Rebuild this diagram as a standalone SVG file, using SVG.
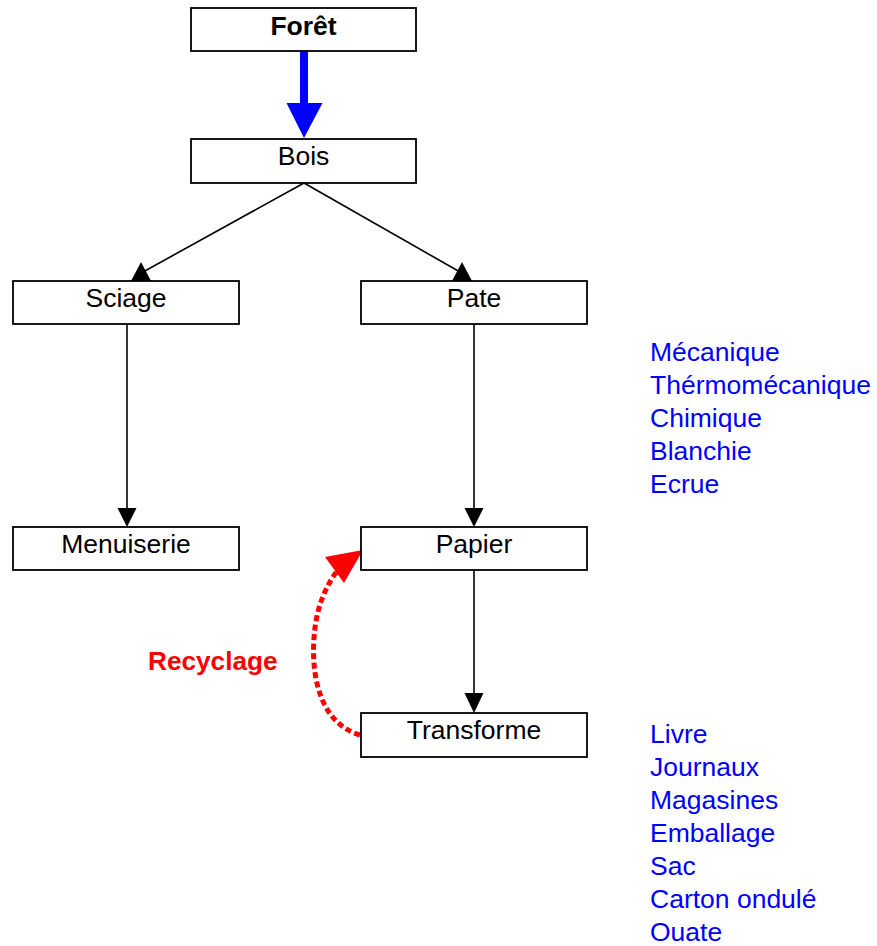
<svg xmlns="http://www.w3.org/2000/svg" width="877" height="946" viewBox="0 0 877 946">
  <style>
    .box rect { fill: #fff; stroke: #000; stroke-width: 1.8; }
    .box text { font-family: "Liberation Sans", Arial, sans-serif; font-size: 26.5px; fill: #000; text-anchor: middle; }
    .conn { stroke: #000; stroke-width: 1.6; fill: none; }
    .head { fill: #000; }
    .list { font-family: "Liberation Sans", Arial, sans-serif; font-size: 26.5px; fill: #0000ff; }
  </style>
  <rect width="877" height="946" fill="#fff"/>

  <!-- connectors -->
  <g id="connectors">
    <!-- Forêt to Bois: thick blue arrow -->
    <line x1="304" y1="51" x2="304" y2="106" stroke="#0000ff" stroke-width="8"/>
    <polygon points="286.5,103 322.5,103 304,138" fill="#0000ff"/>
    <!-- Bois to Sciage / Pate -->
    <line class="conn" x1="304" y1="183" x2="143" y2="272"/>
    <polygon class="head" points="141,262 131,281 151,281"/>
    <line class="conn" x1="304" y1="183" x2="460" y2="272"/>
    <polygon class="head" points="462,262 452,281 472,281"/>
    <!-- Sciage to Menuiserie -->
    <line class="conn" x1="127" y1="324" x2="127" y2="510"/>
    <polygon class="head" points="117.5,508 136.5,508 127,527"/>
    <!-- Pate to Papier -->
    <line class="conn" x1="474" y1="324" x2="474" y2="510"/>
    <polygon class="head" points="464.5,508 483.5,508 474,527"/>
    <!-- Papier to Transforme -->
    <line class="conn" x1="474" y1="570" x2="474" y2="696"/>
    <polygon class="head" points="464.5,693 483.5,693 474,713"/>
    <!-- Recycling loop -->
    <path d="M360,735 C322,724 311,680 314,638 C316,608 325,588 337,571" fill="none" stroke="#ff0000" stroke-width="5" stroke-dasharray="6 3.5"/>
    <polygon points="363,550 325,557 344,583" fill="#ff0000"/>
  </g>

  <g id="foret" class="box">
    <rect x="191" y="8" width="225" height="43"/>
    <text x="303.5" y="35" font-weight="bold">Forêt</text>
  </g>
  <g id="bois" class="box">
    <rect x="191" y="139" width="225" height="44"/>
    <text x="303.5" y="165">Bois</text>
  </g>
  <g id="sciage" class="box">
    <rect x="13" y="281" width="226" height="43"/>
    <text x="126" y="307">Sciage</text>
  </g>
  <g id="pate" class="box">
    <rect x="361" y="281" width="226" height="43"/>
    <text x="474" y="307">Pate</text>
  </g>
  <g id="menuiserie" class="box">
    <rect x="13" y="527" width="226" height="43"/>
    <text x="126" y="553">Menuiserie</text>
  </g>
  <g id="papier" class="box">
    <rect x="361" y="527" width="226" height="43"/>
    <text x="474" y="553">Papier</text>
  </g>
  <g id="transforme" class="box">
    <rect x="361" y="713" width="226" height="44"/>
    <text x="474" y="739">Transforme</text>
  </g>

  <g id="recyclage-label">
    <text x="148" y="670" font-family="Liberation Sans, Arial, sans-serif" font-size="26.2" font-weight="bold" fill="#ff0000">Recyclage</text>
  </g>

  <g id="pate-types" class="list">
    <text x="650" y="361">Mécanique</text>
    <text x="650" y="394">Thérmomécanique</text>
    <text x="650" y="427">Chimique</text>
    <text x="650" y="460">Blanchie</text>
    <text x="650" y="493">Ecrue</text>
  </g>

  <g id="produits" class="list">
    <text x="650" y="743">Livre</text>
    <text x="650" y="776">Journaux</text>
    <text x="650" y="809">Magasines</text>
    <text x="650" y="842">Emballage</text>
    <text x="650" y="875">Sac</text>
    <text x="650" y="908">Carton ondulé</text>
    <text x="650" y="941">Ouate</text>
  </g>
</svg>
